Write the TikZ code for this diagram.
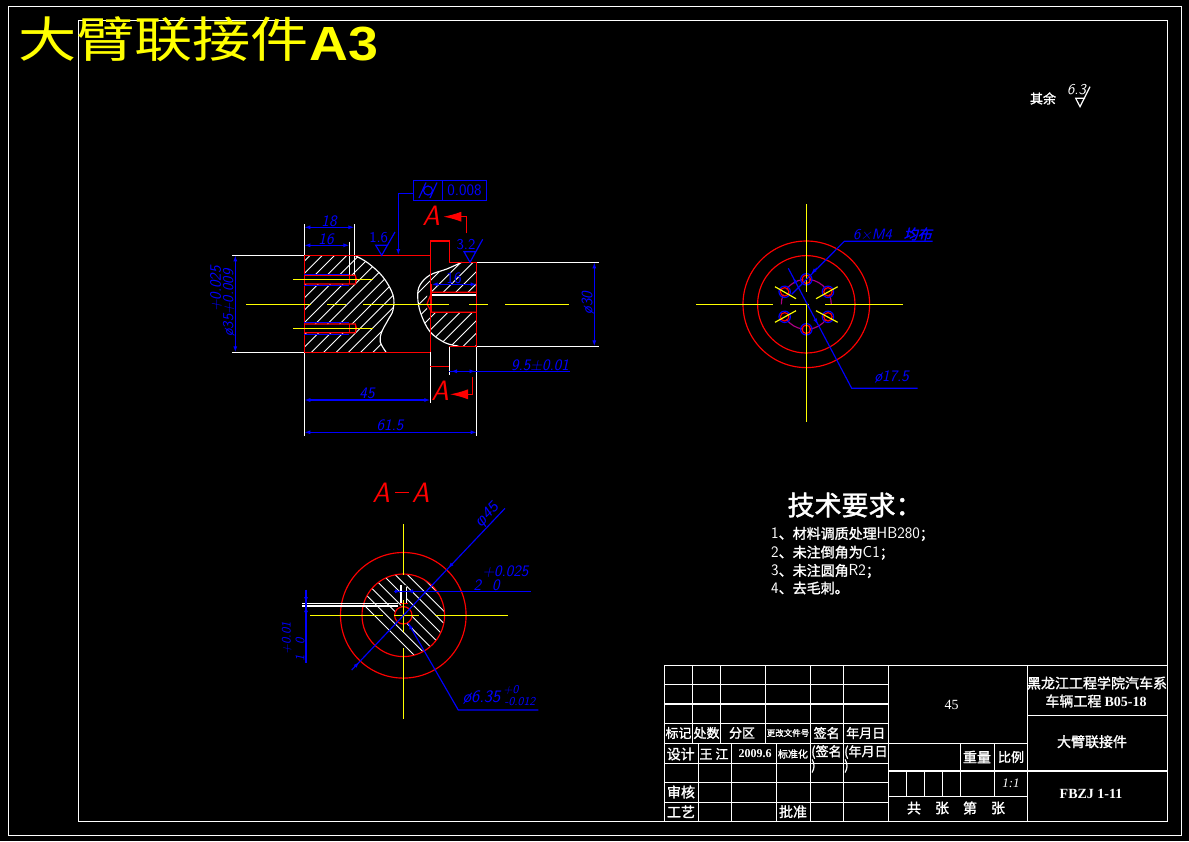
\documentclass[tikz,border=0pt]{standalone}
\usepackage{fontspec}
\usetikzlibrary{arrows.meta}
\setmainfont{Liberation Sans}
\newfontfamily\cjk{Noto Sans CJK SC}
\newfontfamily\cjkb[FakeBold=1.5]{Noto Sans CJK SC}
\newfontfamily\cjkw[FakeStretch=1.2]{Noto Sans CJK SC}
\newfontfamily\titlelat[FakeStretch=1.12]{Liberation Sans}
\newfontfamily\cjkit[FakeSlant=0.25,FakeBold=2]{Noto Sans CJK SC}
\newfontfamily\ser{Liberation Serif}
\newcommand\px[1]{\fontsize{#1}{#1}\selectfont}
\newcommand\reqcjk[1]{{\cjkb\px{14}#1}}
\definecolor{cadred}{RGB}{255,0,0}
\definecolor{cadblue}{RGB}{0,0,255}
\definecolor{cadyellow}{RGB}{255,255,0}
\definecolor{cadpurple}{RGB}{170,0,130}
\tikzset{
  redline/.style={cadred,line width=1.15pt},
  whiteline/.style={white,line width=1.15pt},
  whitecurve/.style={white,line width=1.15pt,smooth,tension=.6},
  hatchline/.style={white,line width=.9pt},
  yellowline/.style={cadyellow,line width=1.15pt},
  blueline/.style={cadblue,line width=1.15pt},
  purpleline/.style={cadpurple,line width=1.15pt},
  bluetip/.style={cadblue,line width=1.15pt,-{Latex[length=6pt,width=4pt]}},
  dimboth/.style={cadblue,line width=1.15pt,{Latex[length=6pt,width=4pt]}-{Latex[length=6pt,width=4pt]}},
  redtip/.style={cadred,line width=1.15pt,-{Latex[length=18pt,width=10pt]}},
  dimtext/.style={cadblue,inner sep=0pt,font=\sffamily\px{16}\itshape},
  dimsmall/.style={cadblue,inner sep=0pt,font=\sffamily\px{12}\itshape},
  dimup/.style={cadblue,inner sep=0pt,font=\sffamily\px{16}},
  sectext/.style={cadred,inner sep=0pt,font=\sffamily\px{28}\itshape},
  tbtext/.style={white,inner sep=0pt,font=\cjkb\px{13}},
  tbline/.style={white,line width=1.15pt},
  reqtext/.style={white,inner sep=0pt,anchor=west,font=\sffamily\px{16}},
}
\begin{document}
\begin{tikzpicture}[x=1pt,y=-1pt]
\fill[black] (0,0) rectangle (1189,841);
\useasboundingbox (0,0) rectangle (1189,841);
% frames
\draw[whiteline] (8.3,6.3) rectangle (1181.7,835.3);
\draw[whiteline] (78.3,20.3) rectangle (1167.7,821.3);
\node[cadyellow,inner sep=0pt,anchor=base west] (title) at (18,60) {\raisebox{3pt}{\cjkw\px{48.5}大臂联接件}{\titlelat\bfseries\px{48}A3}};
% roughness note
\node[white,inner sep=0pt] (other) at (1043,98.5) {\cjkb\px{13}其余};
\node[white,inner sep=0pt,font=\sffamily\px{15}\itshape] (r63) at (1076.5,90) {6.3};
\draw[whiteline] (1085,98.3) -- (1075.7,98.3) -- (1080,106.7) -- (1090,86.7);
%%% main view: hatch
\begin{scope}[even odd rule]
\clip (304,255.3) -- plot[smooth,tension=.6] coordinates {(355.7,256) (368,263) (383,277) (393,295) (393,310) (388,320) (381.7,332) (380.3,342) (386,352)} -- (304,352) -- cycle
  (304,275.3) rectangle (355.3,284) (304,324) rectangle (355.3,332.7);
\foreach \c in {0,...,24} {\draw[hatchline] ({230+12.3*(\c-6)},360) -- ({350+12.3*(\c-6)},240);}
\end{scope}
\begin{scope}[even odd rule]
\clip (461.7,262.3) -- plot[smooth,tension=.6] coordinates {(461.7,262.3) (446.7,269) (430,275) (420,285) (417.7,296.7) (420.7,313.3) (430,331.7) (445,342.7) (458.3,346)} -- (476.7,346.3) -- (476.7,262.3) -- cycle
  (427,292.3) rectangle (476.7,312.3);
\foreach \c in {0,...,20} {\draw[hatchline] ({375.6+12.3*(\c-8)},360) -- ({495.6+12.3*(\c-8)},240);}
\end{scope}
% main view: white
\draw[whiteline] (232,255.3) -- (304,255.3);
\draw[whiteline] (232,352.3) -- (304,352.3);
\draw[whiteline] (304.3,224) -- (304.3,435.7);
\draw[whiteline] (354.3,224) -- (354.3,275);
\draw[whiteline] (349.3,241.7) -- (349.3,275);
\draw[whitecurve] plot coordinates {(355.7,256) (368,263) (383,277) (393,295) (393,310) (388,320) (381.7,332) (380.3,342) (386,352)};
\draw[whitecurve] plot coordinates {(461.7,262.3) (446.7,269) (430,275) (420,285) (417.7,296.7) (420.7,313.3) (430,331.7) (445,342.7) (458.3,346)};
\draw[whiteline] (476.7,262.3) -- (599,262.3);
\draw[whiteline] (476.7,346.3) -- (599,346.3);
\draw[whiteline] (476.7,346) -- (476.7,435.7);
\draw[whiteline] (430.3,352) -- (430.3,403);
\draw[whiteline] (449.3,346) -- (449.3,375);
\draw[whiteline] (432,295) -- (476.7,295);
% main view: red
\draw[redline] (304.3,255.3) -- (430.3,255.3);
\draw[redline] (304.3,352.3) -- (430.3,352.3);
\draw[redline] (304.3,255.3) -- (304.3,352.3);
\draw[redline] (430.3,352) -- (430.3,241) -- (449.3,241) -- (449.3,262.3) -- (476.7,262.3) -- (476.7,346.3) -- (449.3,346.3);
\draw[redline] (430.3,366.3) -- (449.3,366.3);
\draw[redline] (476.7,292.3) -- (431.7,292.3) -- (427,304) -- (431.7,312.3) -- (476.7,312.3);
\draw[redline] (431.7,284) -- (431.7,312.3);
\draw[redline] (304.3,275.3) -- (355.3,275.3) -- (356.5,279.5) -- (355.3,284) -- (304.3,284);
\draw[redline] (349.3,275.3) -- (349.3,284);
\draw[redline] (355.3,275.3) -- (355.3,284);
\draw[redline] (304.3,324) -- (355.3,324) -- (356.5,328.3) -- (355.3,332.7) -- (304.3,332.7);
\draw[redline] (349.3,324) -- (349.3,332.7);
\draw[redline] (355.3,324) -- (355.3,332.7);
% main view: blue thread lines
\draw[blueline] (304.3,274.3) -- (349.3,274.3);
\draw[blueline] (304.3,285.3) -- (349.3,285.3);
\draw[blueline] (304.3,322.3) -- (349.3,322.3);
\draw[blueline] (304.3,334.3) -- (349.3,334.3);
% main view: yellow
\draw[yellowline] (293,279.3) -- (373,279.3);
\draw[yellowline] (293,328.3) -- (373,328.3);
\draw[yellowline] (246,304.3) -- (310.7,304.3);
\draw[yellowline] (327,304.3) -- (346,304.3);
\draw[yellowline] (363,304.3) -- (449.3,304.3);
\draw[yellowline] (469,304.3) -- (488,304.3);
\draw[yellowline] (505,304.3) -- (569,304.3);
% main view: dimensions
\draw[dimboth] (235.3,255.3) -- (235.3,352.3);
\node[dimtext,rotate=90] (tolup) at (216,289) {+0.025};
\node[dimtext,rotate=90,font=\sffamily\px{15}\itshape] (dia35) at (229,303) {ø35+0.009};
\draw[dimboth] (304.3,227.3) -- (354.3,227.3);
\node[dimtext] (d18) at (329,221) {18};
\draw[dimboth] (304.3,245.3) -- (349.3,245.3);
\node[dimtext] (d16) at (326,239) {16};
\draw[dimboth] (304.3,400) -- (430.3,400);
\node[dimtext] (d45) at (367,393.5) {45};
\draw[dimboth] (304.3,432.3) -- (476.7,432.3);
\node[dimtext] (d615) at (390,425.5) {61.5};
\draw[dimboth] (431.7,284.3) -- (476.7,284.3);
\node[dimup] (d16b) at (454,278) {16};
\draw[dimboth] (594.3,262.3) -- (594.3,346.3);
\node[dimtext,rotate=90] (d30) at (588,303) {ø30};
\draw[blueline] (449.3,371.3) -- (570,371.3);
\draw[bluetip] (462,371.3) -- (451,371.3);
\draw[bluetip] (464,371.3) -- (475.5,371.3);
\node[dimtext] (d95) at (540,365) {9.5±0.01};
% roughness marks
\node[dimup,font=\sffamily\px{15}] (r16) at (378.7,238) {1.6};
\draw[blueline] (388,245.3) -- (375.7,245.3) -- (381.7,255.3) -- (395,232);
\node[dimup,font=\sffamily\px{15}] (r32) at (466,245) {3.2};
\draw[blueline] (476,251.7) -- (464,251.7) -- (470,262.3) -- (482.7,239.3);
% tolerance frame
\draw[blueline] (413.3,180.3) rectangle (486.7,200.3);
\draw[blueline] (442.3,180.3) -- (442.3,200.3);
\draw[blueline] (428,190.5) circle[radius=4.5];
\draw[blueline] (419,198) -- (426,182.5);
\draw[blueline] (430,198) -- (437,182.5);
\node[dimup] (tol) at (464.5,190.5) {0.008};
\draw[blueline] (413.3,193.3) -- (398.3,193.3) -- (398.3,250);
\draw[bluetip] (398.3,247) -- (398.3,255);
% section marks
\node[sectext] (secA1) at (431,216) {A};
\draw[redtip] (466.3,233.3) -- (466.3,216.7) -- (443.3,216.7);
\node[sectext] (secA2) at (440,391) {A};
\draw[redtip] (472.3,377.3) -- (472.3,394.3) -- (450,394.3);
%%% end view
\coordinate (tc) at (806.3,304.3);
\draw[redline] (tc) circle[radius=63.3];
\draw[redline] (tc) circle[radius=48.7];
\foreach \s/\e in {-83/-37,-23/0,37/83,97/143,180/203,217/263} {
  \draw[purpleline] (tc) ++(\s:25) arc[start angle=\s,end angle=\e,radius=25];
}
\foreach \a in {30,90,150,210,270,330} {
  \draw[blueline] (tc) ++(\a:25) circle[radius=5.7];
  \draw[redline] (tc) ++(\a:25) circle[radius=4.2];
}
\draw[yellowline] (806.3,204) -- (806.3,292);
\draw[yellowline] (806.3,304) -- (806.3,421.7);
\draw[yellowline] (696,304.3) -- (772.7,304.3);
\draw[yellowline] (790,304.3) -- (809,304.3);
\draw[yellowline] (825,304.3) -- (902.7,304.3);
\draw[yellowline] (775,286.7) -- (796,298.7);
\draw[yellowline] (837.7,286.7) -- (816,298.7);
\draw[yellowline] (775,322.3) -- (796,310.7);
\draw[yellowline] (837.7,322.3) -- (816,310.7);
\draw[blueline] (791.7,294.3) -- (844.3,241.3) -- (932.7,241.3);
\draw[bluetip] (817,268) -- (811,274);
\node[dimtext,font=\sffamily\px{15}\itshape,anchor=west] (m4) at (853,234) {6×M4};
\node[cadblue,inner sep=0pt] (even) at (917.7,234) {\cjkit\px{14}均布};
\draw[blueline] (788.3,268.3) -- (851.7,388.3) -- (917.7,388.3);
\draw[bluetip] (796,283) -- (793,277.5);
\draw[bluetip] (815,319) -- (818,324.5);
\node[dimtext] (d175) at (891.7,377) {ø17.5};
%%% section A-A
\node[sectext] (aa1) at (381,492.7) {A};
\draw[redline] (395,492.4) -- (409,492.4);
\node[sectext] (aa2) at (420.7,492.7) {A};
\coordinate (sc) at (403.3,615.3);
\begin{scope}[even odd rule]
\clip (sc) circle[radius=41.3] (sc) circle[radius=8.7] (401,585) rectangle (406.7,606);
\foreach \c in {0,...,14} {\draw[hatchline] ({-155+12.3*(\c-7)+500},500) -- ({-155+12.3*(\c-7)+730},730);}
\end{scope}
\draw[redline] (sc) circle[radius=62.8];
\draw[redline] (sc) circle[radius=41.3];
\draw[redline] (sc) circle[radius=8.7];
\draw[redline] (400,603.3) -- (407.5,603.3);
\draw[whiteline] (401,585) -- (401,603);
\draw[whiteline] (406.7,587) -- (406.7,603);
\draw[whiteline] (302.3,603.3) -- (397.7,603.3);
\draw[whiteline] (302.3,606) -- (397.7,606);
\draw[yellowline] (403.3,524) -- (403.3,575);
\draw[yellowline] (403.3,600) -- (403.3,632);
\draw[yellowline] (403.3,648) -- (403.3,719.3);
\draw[yellowline] (310,615.3) -- (383.3,615.3);
\draw[yellowline] (394.3,615.3) -- (419,615.3);
\draw[yellowline] (435,615.3) -- (507.7,615.3);
\draw[blueline] (306,589.7) -- (306,662.7);
\draw[bluetip] (306,595) -- (306,603);
\draw[bluetip] (306,614) -- (306,606);
\node[dimtext,rotate=90,font=\sffamily\px{13}\itshape] (s001) at (286.7,638.5) {+0.01};
\node[dimtext,rotate=90,font=\sffamily\px{13}\itshape] (s0) at (300,641) {0};
\node[dimtext,rotate=90,font=\sffamily\px{13}\itshape] (s1) at (300,658) {1};
\draw[blueline] (351.7,670) -- (505,508.3);
\draw[bluetip] (452,564) -- (448,568.3);
\draw[bluetip] (355.3,666.2) -- (359.3,662);
\node[dimtext,rotate=46,font=\rmfamily\px{15}\itshape] (s45) at (488,515) {φ45};
\draw[blueline] (394,591.3) -- (531,591.3);
\draw[bluetip] (394,591.3) -- (401,591.3);
\draw[bluetip] (414,591.3) -- (407,591.3);
\node[dimtext] (s2) at (477.3,585) {2};
\node[dimtext] (s20) at (496,585) {0};
\node[dimtext] (s025) at (505.5,571.7) {+0.025};
\draw[blueline] (408.3,623.3) -- (458.3,710) -- (538.3,710);
\draw[bluetip] (412,630) -- (408.3,623.3);
\node[dimtext,font=\sffamily\px{17.5}\itshape] (s635) at (481.7,698) {ø6.35};
\node[dimsmall] (sp0) at (511,690) {+0};
\node[dimsmall] (sm0) at (520,701.7) {-0.012};
%%% requirements
\node[white,inner sep=0pt] (reqh) at (855,505) {\cjkb\px{27}技术要求：};
\node[reqtext] (req1) at (771,534) {1\reqcjk{、材料调质处理}HB280\reqcjk{；}};
\node[reqtext] (req2) at (771,552.7) {2\reqcjk{、未注倒角为}C1\reqcjk{；}};
\node[reqtext] (req3) at (771,571) {3\reqcjk{、未注圆角}R2\reqcjk{；}};
\node[reqtext] (req4) at (771,588) {4\reqcjk{、去毛刺。}};
%%% title block
\draw[tbline] (664.3,665.3) rectangle (1167.7,821.3);
\foreach \y in {684.3,704,723.3,743.3,763.3,782.3,802.3} {\draw[tbline] (664.3,\y) -- (888.7,\y);}
\foreach \x in {692.7,720.7,765.7} {\draw[tbline] (\x,665.3) -- (\x,743.3);}
\foreach \x in {810.3,843.3} {\draw[tbline] (\x,665.3) -- (\x,821.3);}
\foreach \x in {698.3,731.7,776.7} {\draw[tbline] (\x,743.3) -- (\x,821.3);}
\draw[tbline] (888.7,665.3) -- (888.7,821.3);
\draw[tbline] (1027.3,665.3) -- (1027.3,821.3);
\draw[tbline] (1027.3,715.3) -- (1167.7,715.3);
\draw[tbline] (1027.3,771) -- (1167.7,771);
\draw[tbline] (888.7,743.3) -- (1027.3,743.3);
\draw[tbline] (888.7,771) -- (1027.3,771);
\draw[tbline] (888.7,796.3) -- (1027.3,796.3);
\foreach \x in {960.3,994.3} {\draw[tbline] (\x,743.3) -- (\x,796.3);}
\foreach \x in {906.3,924.3,942.3} {\draw[tbline] (\x,771) -- (\x,796.3);}
\node[tbtext] (t1) at (678.5,733) {\px{13}标记};
\node[tbtext] (t2) at (706.5,733) {\px{13}处数};
\node[tbtext] (t3) at (742,733) {\px{13}分区};
\node[tbtext] (t4) at (788,733) {\px{8.5}更改文件号};
\node[tbtext] (t5) at (826.7,733) {\px{13}签名};
\node[tbtext] (t6) at (865.7,733) {\px{13}年月日};
\node[tbtext] (t7) at (680.7,754) {\px{14}设计};
\node[tbtext] (t8) at (714,754) {\px{13}王 江};
\node[white,inner sep=0pt,font=\ser\bfseries\px{12}] (t9) at (755,754) {2009.6};
\node[tbtext] (t10) at (793,754) {\px{10}标准化};
\node[tbtext,anchor=west] (t11) at (811,752) {\px{13}(签名};
\node[tbtext,anchor=west] (t11b) at (811,766) {\px{13})};
\node[tbtext,anchor=west] (t12) at (844,752) {\px{13}(年月日};
\node[tbtext,anchor=west] (t12b) at (844,766) {\px{13})};
\node[tbtext] (t13) at (681,792) {\px{14}审核};
\node[tbtext] (t14) at (681,811.7) {\px{14}工艺};
\node[tbtext] (t15) at (793,811.7) {\px{14}批准};
\node[white,inner sep=0pt,font=\ser\px{14}] (t16) at (951.7,705) {45};
\node[tbtext] (t17) at (977,757) {\px{14}重量};
\node[tbtext] (t18) at (1011,757) {\px{13}比例};
\node[white,inner sep=0pt,font=\ser\itshape\px{13}] (t19) at (1011,783.7) {1:1};
\node[tbtext] (t20) at (914,808) {\px{14}共};
\node[tbtext] (t21) at (942,808) {\px{14}张};
\node[tbtext] (t22) at (970,808) {\px{14}第};
\node[tbtext] (t23) at (998,808) {\px{14}张};
\node[tbtext] (t24) at (1097,683) {\px{14}黑龙江工程学院汽车系};
\node[tbtext] (t25) at (1096,701) {\px{14}车辆工程 {\ser\bfseries B05-18}};
\node[tbtext] (t26) at (1092,741.7) {\px{14}大臂联接件};
\node[white,inner sep=0pt,font=\ser\bfseries\px{14}] (t27) at (1091,794) {FBZJ 1-11};
\end{tikzpicture}
\end{document}
